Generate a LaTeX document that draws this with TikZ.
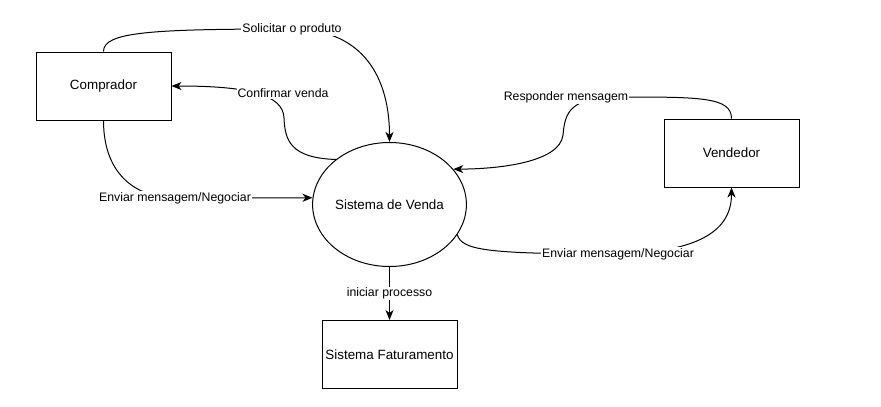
\documentclass[tikz,border=0pt]{standalone}
\usepackage{fontspec}
\setmainfont{Liberation Sans}
\usepackage{tikz}
\usetikzlibrary{arrows.meta,shapes.geometric}

\begin{document}
\begin{tikzpicture}[x=1pt,y=-1pt,>={Stealth[length=10pt,width=8pt,inset=3pt]},line width=1pt,
  box node/.style={rectangle,draw,minimum width=135pt,minimum height=68pt,
    inner sep=0pt,font=\fontsize{13.4}{15}\selectfont},
  process node/.style={ellipse,draw,minimum width=146pt,minimum height=124pt,
    inner sep=0pt,font=\fontsize{13.4}{15}\selectfont},
  label node/.style={fill=white,inner sep=1pt,font=\fontsize{12.3}{14}\selectfont}]
  \useasboundingbox (0,0) rectangle (881,407);

  \node[box node] (comprador) at (103.5,86) {Comprador};
  \node[process node] (venda) at (389.5,204.5) {Sistema de Venda};
  \node[box node] (vendedor) at (731.5,153) {Vendedor};
  \node[box node] (faturamento) at (389.5,354.5) {Sistema Faturamento};

  % comprador <-> sistema de venda
  \draw[->] (comprador.north) .. controls (103.5,32) and (150,29) .. (292,29)
    node[label node] {Solicitar o produto}
    .. controls (365,29) and (389.5,80) .. (venda.north);
  \draw[->] (venda.140) .. controls (290,158) and (285,140) .. (284,118)
    .. controls (283,95) and (250,86) .. (comprador.east);
  \node[label node] (confirmar) at (283,93.5) {Confirmar venda};
  \draw[->] (comprador.south) .. controls (103.5,178) and (140,198) .. (175,198)
    node[label node] {Enviar mensagem/Negociar} -- (venda.175);

  % vendedor <-> sistema de venda
  \draw[->] (vendedor.north) .. controls (731.5,97) and (700,97) .. (620,97)
    .. controls (570,97) and (565,112) .. (563,135)
    .. controls (560,162) and (500,169) .. (venda.29);
  \node[label node] (responder) at (566,97.5) {Responder mensagem};
  \draw[->] (venda.-24) .. controls (462,250) and (485,254) .. (618,254)
    node[label node] {Enviar mensagem/Negociar}
    .. controls (700,252) and (731.5,230) .. (vendedor.south);

  % sistema de venda -> faturamento
  \draw[->] (venda.south) -- node[label node] {iniciar processo} (faturamento.north);
\end{tikzpicture}
\end{document}
